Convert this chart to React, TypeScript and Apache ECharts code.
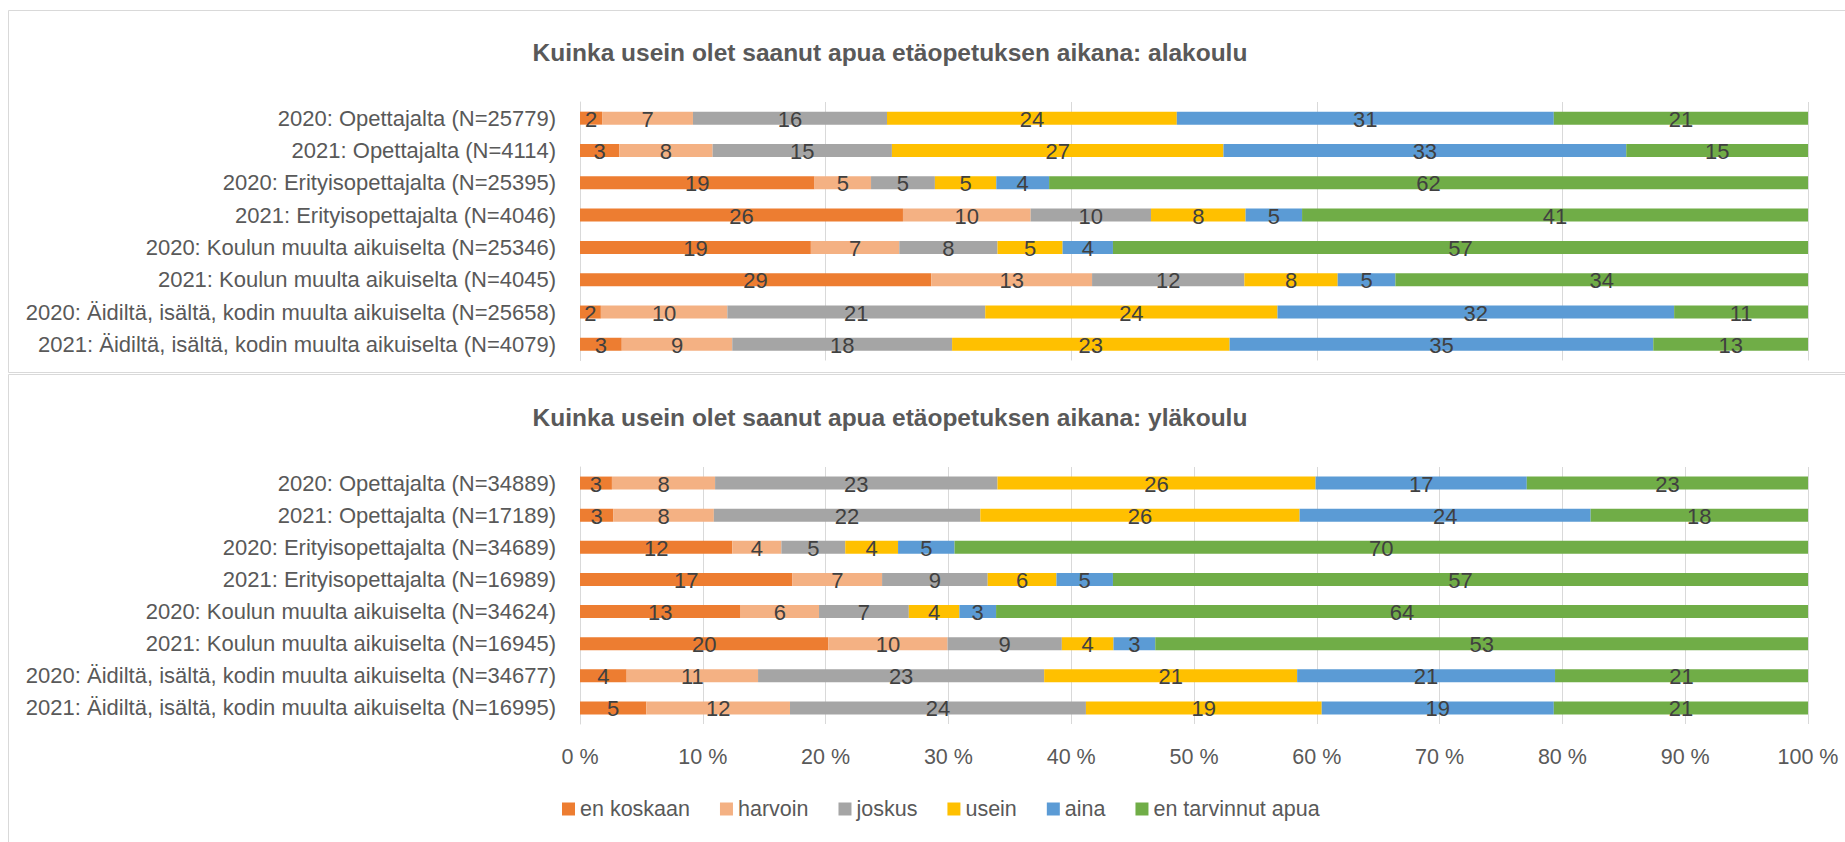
import React, { useEffect, useRef } from "react";
import * as echarts from "echarts";

const FONT = "'Liberation Sans', Arial, sans-serif";

const SERIES_NAMES = ["en koskaan", "harvoin", "joskus", "usein", "aina", "en tarvinnut apua"];
const COLORS = ["#ED7D31", "#F4B183", "#A5A5A5", "#FFC000", "#5B9BD5", "#70AD47"];

const TITLE_ALA = "Kuinka usein olet saanut apua etäopetuksen aikana: alakoulu";
const TITLE_YLA = "Kuinka usein olet saanut apua etäopetuksen aikana: yläkoulu";

const alaCategories = [
  "2020: Opettajalta (N=25779)",
  "2021: Opettajalta (N=4114)",
  "2020: Erityisopettajalta (N=25395)",
  "2021: Erityisopettajalta (N=4046)",
  "2020: Koulun muulta aikuiselta (N=25346)",
  "2021: Koulun muulta aikuiselta (N=4045)",
  "2020: Äidiltä, isältä, kodin muulta aikuiselta (N=25658)",
  "2021: Äidiltä, isältä, kodin muulta aikuiselta (N=4079)",
];

const ylaCategories = [
  "2020: Opettajalta (N=34889)",
  "2021: Opettajalta (N=17189)",
  "2020: Erityisopettajalta (N=34689)",
  "2021: Erityisopettajalta (N=16989)",
  "2020: Koulun muulta aikuiselta (N=34624)",
  "2021: Koulun muulta aikuiselta (N=16945)",
  "2020: Äidiltä, isältä, kodin muulta aikuiselta (N=34677)",
  "2021: Äidiltä, isältä, kodin muulta aikuiselta (N=16995)",
];

// alakoulu
const alaEnKoskaan = [1.8, 3.2, 19.1, 26.3, 18.8, 28.6, 1.7, 3.4];
const alaHarvoin = [7.4, 7.6, 4.6, 10.4, 7.2, 13.1, 10.3, 9.0];
const alaJoskus = [15.8, 14.6, 5.2, 9.8, 8.0, 12.4, 21.0, 17.9];
const alaUsein = [23.6, 27.0, 5.0, 7.7, 5.3, 7.6, 23.8, 22.6];
const alaAina = [30.7, 32.8, 4.3, 4.6, 4.1, 4.7, 32.3, 34.5];
const alaEnTarvinnut = [20.7, 14.8, 61.8, 41.2, 56.6, 33.6, 10.9, 12.6];

// yläkoulu
const ylaEnKoskaan = [2.6, 2.7, 12.4, 17.3, 12.7, 20.2, 3.8, 5.4];
const ylaHarvoin = [8.4, 8.2, 4.0, 7.3, 6.2, 9.7, 10.7, 11.7];
const ylaJoskus = [23.0, 21.7, 5.2, 8.6, 7.1, 9.3, 23.3, 24.1];
const ylaUsein = [25.9, 26.0, 4.3, 5.6, 4.0, 4.2, 20.6, 19.2];
const ylaAina = [17.2, 23.7, 4.6, 4.6, 2.9, 3.4, 21.0, 18.9];
const ylaEnTarvinnut = [22.9, 17.7, 69.5, 56.6, 64.2, 53.1, 20.6, 20.7];

const alaValues = [alaEnKoskaan, alaHarvoin, alaJoskus, alaUsein, alaAina, alaEnTarvinnut];
const ylaValues = [ylaEnKoskaan, ylaHarvoin, ylaJoskus, ylaUsein, ylaAina, ylaEnTarvinnut];

const xTicks = [0, 10, 20, 30, 40, 50, 60, 70, 80, 90, 100];

function buildSeries(values: number[][], gridIdx: number, stack: string) {
  const n = values[0].length;
  const totals: number[] = [];
  for (let i = 0; i < n; i++) {
    let s = 0;
    for (const arr of values) s += arr[i];
    totals.push(s);
  }
  return values.map((arr, si) => ({
    type: "bar",
    name: SERIES_NAMES[si],
    xAxisIndex: gridIdx,
    yAxisIndex: gridIdx,
    stack,
    barWidth: 13,
    itemStyle: { color: COLORS[si] },
    label: {
      show: true,
      position: "inside",
      color: "#404040",
      fontSize: 22,
      fontFamily: FONT,
      offset: [0, 1],
      formatter: (p: any) => String(Math.round(p.data.raw)),
    },
    emphasis: { disabled: true },
    data: arr.map((v, i) => ({ value: (v / totals[i]) * 100, raw: v })),
  }));
}

export default function App() {
  const ref = useRef<HTMLDivElement>(null);
  useEffect(() => {
    if (!ref.current) return;
    const chart = echarts.init(ref.current, undefined, { renderer: "svg" });
    const axisLabelStyle = { color: "#595959", fontSize: 22, fontFamily: FONT };
    const option: any = {
      animation: false,
      backgroundColor: "#FFFFFF",
      graphic: [
        {
          type: "rect",
          shape: { x: 8.5, y: 10.5, width: 1850, height: 362 },
          style: { fill: "none", stroke: "#D9D9D9", lineWidth: 1 },
          silent: true,
        },
        {
          type: "rect",
          shape: { x: 8.5, y: 374.5, width: 1850, height: 480 },
          style: { fill: "none", stroke: "#D9D9D9", lineWidth: 1 },
          silent: true,
        },
        {
          type: "text",
          x: 890,
          y: 52,
          style: {
            text: TITLE_ALA,
            fill: "#595959",
            font: `bold 24.5px ${FONT}`,
            textAlign: "center",
            textVerticalAlign: "middle",
          },
        },
        {
          type: "text",
          x: 890,
          y: 417,
          style: {
            text: TITLE_YLA,
            fill: "#595959",
            font: `bold 24.5px ${FONT}`,
            textAlign: "center",
            textVerticalAlign: "middle",
          },
        },
      ],
      legend: {
        data: SERIES_NAMES,
        left: 562,
        top: 798,
        padding: 0,
        itemWidth: 13,
        itemHeight: 13,
        itemGap: 30,
        icon: "rect",
        selectedMode: false,
        textStyle: { color: "#595959", fontSize: 21.5, fontFamily: FONT },
      },
      grid: [
        { left: 580, right: 37, top: 102, height: 258.5 },
        { left: 580, right: 37, top: 467, height: 257 },
      ],
      xAxis: [
        {
          gridIndex: 0,
          type: "value",
          min: 0,
          max: 100,
          interval: 20,
          axisLabel: { show: false },
          axisLine: { show: false },
          axisTick: { show: false },
          splitLine: { show: true, lineStyle: { color: "#D9D9D9", width: 1 } },
        },
        {
          gridIndex: 1,
          type: "value",
          min: xTicks[0],
          max: xTicks[xTicks.length - 1],
          interval: 10,
          axisLabel: { ...axisLabelStyle, fontSize: 21.5, margin: 22, formatter: (v: number) => `${v} %` },
          axisLine: { show: false },
          axisTick: { show: false },
          splitLine: { show: true, lineStyle: { color: "#D9D9D9", width: 1 } },
        },
      ],
      yAxis: [
        {
          gridIndex: 0,
          type: "category",
          inverse: true,
          data: alaCategories,
          axisLine: { show: true, lineStyle: { color: "#D9D9D9" } },
          axisTick: { show: false },
          axisLabel: { ...axisLabelStyle, margin: 24 },
        },
        {
          gridIndex: 1,
          type: "category",
          inverse: true,
          data: ylaCategories,
          axisLine: { show: true, lineStyle: { color: "#D9D9D9" } },
          axisTick: { show: false },
          axisLabel: { ...axisLabelStyle, margin: 24 },
        },
      ],
      series: [...buildSeries(alaValues, 0, "ala"), ...buildSeries(ylaValues, 1, "yla")],
    };
    chart.setOption(option);
    return () => chart.dispose();
  }, []);
  return (
    <div
      ref={ref}
      style={{ position: "absolute", left: 0, top: 0, width: 1845, height: 842 }}
    />
  );
}
